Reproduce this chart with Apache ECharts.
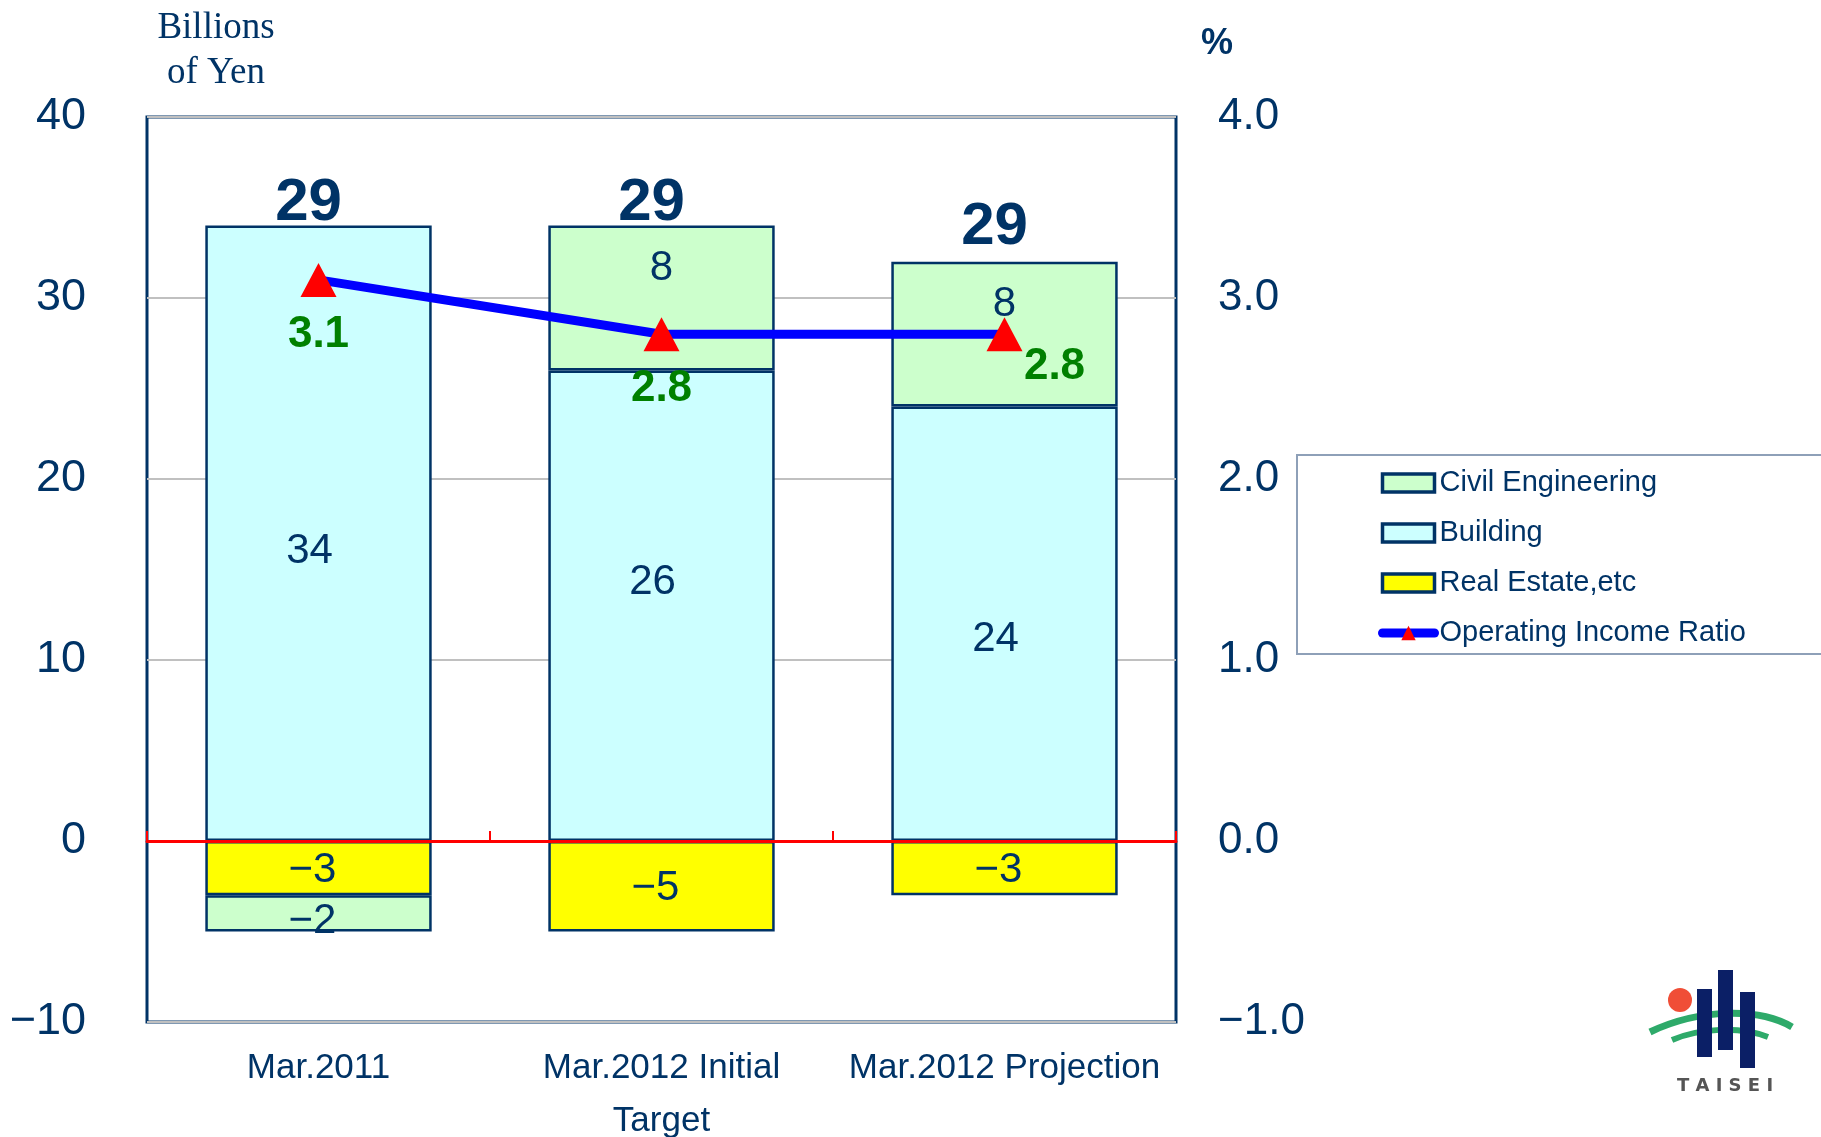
<!DOCTYPE html>
<html>
<head>
<meta charset="utf-8">
<title>Operating Income by Segment</title>
<script src="https://cdn.jsdelivr.net/npm/echarts@6/dist/echarts.min.js"></script>
<style>
html, body { margin: 0; padding: 0; background: #fff; }
#chart { width: 1821px; height: 1137px; }
</style>
</head>
<body>
<div id="chart"></div>
<script>
// data
const categories = ['Mar.2011', 'Mar.2012 Initial\nTarget', 'Mar.2012 Projection'];
const civilEngineering = [-2, 8, 8];
const building = [34, 26, 24];
const realEstate = [-3, -5, -3];
const incomeRatio = [3.1, 2.8, 2.8];
const leftAxisRange = [-10, 40, 10];   // min, max, interval
const rightAxisRange = [-1, 4, 1];

const NAVY = '#003366';
const FONT = '"Liberation Sans", "Noto Sans", sans-serif';

const minus = (s) => String(s).replace('-', '\u2212');

// totals and stack tops (for the "29" labels)
const totals = categories.map((_, i) => civilEngineering[i] + building[i] + realEstate[i]);
const positiveTops = categories.map((_, i) =>
  [civilEngineering[i], building[i], realEstate[i]].filter(v => v > 0).reduce((a, b) => a + b, 0));

// label nudges, as placed in the original slide
const buildingLabelShift = [18, -23, 16];
const totalLabelShift = [12, 12, 0];

const barLabel = {
  show: true,
  position: 'inside',
  color: NAVY,
  fontSize: 42,
  fontFamily: FONT,
  formatter: p => minus(p.value)
};

const barStyle = (fill) => ({ color: fill, borderColor: NAVY, borderWidth: 2.5 });

const chart = echarts.init(document.getElementById('chart'));

const option = {
  backgroundColor: '#fff',
  animation: false,
  grid: {
    left: 147, top: 117, right: 645, bottom: 115,
    outerBoundsMode: 'none',
    show: true,
    backgroundColor: '#fff',
    borderColor: NAVY,
    borderWidth: 3
  },
  legend: {
    orient: 'vertical',
    left: 1373,
    top: 463,
    itemWidth: 52,
    itemHeight: 18,
    itemGap: 20,
    itemStyle: { borderColor: NAVY, borderWidth: 3.5 },
    textStyle: { color: NAVY, fontSize: 29, fontFamily: FONT, lineHeight: 30 },
    data: [
      { name: 'Civil Engineering', icon: 'rect' },
      { name: 'Building', icon: 'rect' },
      { name: 'Real Estate,etc', icon: 'rect' },
      { name: 'Operating Income Ratio', itemStyle: { borderWidth: 0 }, lineStyle: { width: 9, cap: 'round' } }
    ]
  },
  xAxis: [
    {
      // red zero line with category separators
      type: 'category',
      data: categories,
      position: 'bottom',
      z: 5,
      axisLine: { onZero: true, onZeroAxisIndex: 0, lineStyle: { color: '#FF0000', width: 3 } },
      axisTick: { show: true, inside: true, length: 10, lineStyle: { color: '#FF0000', width: 2 } },
      axisLabel: { show: false }
    },
    {
      type: 'category',
      data: categories,
      position: 'bottom',
      axisLine: { show: false, onZero: false },
      axisTick: { show: false },
      axisLabel: {
        interval: 0,
        color: NAVY, fontSize: 35, fontFamily: FONT, lineHeight: 53, margin: 20
      }
    }
  ],
  yAxis: [
    {
      type: 'value',
      min: leftAxisRange[0], max: leftAxisRange[1], interval: leftAxisRange[2],
      axisLine: { show: false },
      axisTick: { show: false },
      splitLine: { lineStyle: { color: '#C0C0C0', width: 2 } },
      axisLabel: { color: NAVY, fontSize: 45, fontFamily: FONT, margin: 61, formatter: v => minus(v) }
    },
    {
      type: 'value',
      min: rightAxisRange[0], max: rightAxisRange[1], interval: rightAxisRange[2],
      axisLine: { show: false },
      axisTick: { show: false },
      splitLine: { show: false },
      axisLabel: { color: NAVY, fontSize: 44, fontFamily: FONT, margin: 42, formatter: v => minus(v.toFixed(1)) }
    }
  ],
  series: [
    {
      name: 'Building',
      type: 'bar',
      stack: 'seg',
      barWidth: '66%',
      itemStyle: barStyle('#CCFFFF'),
      label: barLabel,
      data: building.map((v, i) => ({ value: v, label: { offset: [-9, buildingLabelShift[i]] } }))
    },
    {
      name: 'Real Estate,etc',
      type: 'bar',
      stack: 'seg',
      itemStyle: barStyle('#FFFF00'),
      label: Object.assign({}, barLabel, { offset: [-6, 2] }),
      data: realEstate
    },
    {
      name: 'Civil Engineering',
      type: 'bar',
      stack: 'seg',
      itemStyle: barStyle('#CCFFCC'),
      label: barLabel,
      data: civilEngineering.map(v => v > 0
        ? { value: v, label: { position: 'insideTop', distance: 22 } }
        : { value: v, label: { position: 'inside', offset: [-6, 8] } })
    },
    {
      name: 'Total',
      type: 'scatter',
      symbolSize: 1,
      itemStyle: { color: 'rgba(0,0,0,0)', opacity: 1 },
      silent: true,
      z: 6,
      label: {
        show: true,
        position: 'top',
        distance: 4,
        color: NAVY,
        fontSize: 60,
        fontWeight: 'bold',
        fontFamily: FONT,
        formatter: p => totals[p.dataIndex]
      },
      data: positiveTops.map((v, i) => ({ value: v, label: { offset: [-10, totalLabelShift[i]] } }))
    },
    {
      name: 'Operating Income Ratio',
      type: 'line',
      yAxisIndex: 1,
      z: 8,
      symbol: 'triangle',
      symbolSize: [36, 34],
      lineStyle: { color: '#0000FF', width: 9 },
      itemStyle: { color: '#FF0000' },
      label: {
        show: true,
        position: 'bottom',
        distance: 16,
        color: '#008000',
        fontSize: 44,
        fontWeight: 'bold',
        fontFamily: FONT,
        formatter: p => p.value.toFixed(1)
      },
      data: incomeRatio.map((v, i) => i === incomeRatio.length - 1
        ? { value: v, label: { offset: [50, -22] } }
        : v)
    }
  ],
  graphic: [
    {
      type: 'text',
      x: 216, y: 6,
      style: {
        text: 'Billions\nof Yen',
        fill: NAVY,
        font: '37px "Liberation Serif", serif',
        lineHeight: 45,
        align: 'center'
      }
    },
    {
      type: 'text',
      x: 1217, y: 44,
      style: {
        text: '%', fill: NAVY, font: 'bold 36px "Liberation Sans", sans-serif',
        align: 'center', verticalAlign: 'middle'
      }
    },
    {
      // legend frame, runs off the right edge like the original
      type: 'rect',
      z: -1,
      shape: { x: 1297, y: 455, width: 700, height: 199 },
      style: { fill: 'none', stroke: '#8EA0B8', lineWidth: 2 }
    },
    {
      // TAISEI logo
      type: 'group',
      x: 1600, y: 940,
      children: [
        { type: 'circle', shape: { cx: 80, cy: 60, r: 12 }, style: { fill: '#F04E37' } },
        {
          type: 'bezierCurve',
          shape: { x1: 50, y1: 92, x2: 192, y2: 87, cpx1: 100, cpy1: 68, cpx2: 160, cpy2: 68 },
          style: { stroke: '#2EAA6A', lineWidth: 7, fill: 'none' }
        },
        {
          type: 'bezierCurve',
          shape: { x1: 72, y1: 100, x2: 168, y2: 97, cpx1: 100, cpy1: 88, cpx2: 140, cpy2: 86 },
          style: { stroke: '#2EAA6A', lineWidth: 6, fill: 'none' }
        },
        { type: 'rect', shape: { x: 97, y: 49, width: 15, height: 68 }, style: { fill: '#0B1F66' } },
        { type: 'rect', shape: { x: 118, y: 30, width: 15, height: 80 }, style: { fill: '#0B1F66' } },
        { type: 'rect', shape: { x: 140, y: 52, width: 15, height: 76 }, style: { fill: '#0B1F66' } },
        {
          type: 'text',
          x: 125, y: 146,
          style: {
            text: 'T A I S E I', fill: '#555', font: 'bold 18px "DejaVu Sans", sans-serif',
            align: 'center', verticalAlign: 'middle'
          }
        }
      ]
    }
  ]
};

chart.setOption(option);
window.addEventListener('resize', () => chart.resize());
</script>
</body>
</html>
